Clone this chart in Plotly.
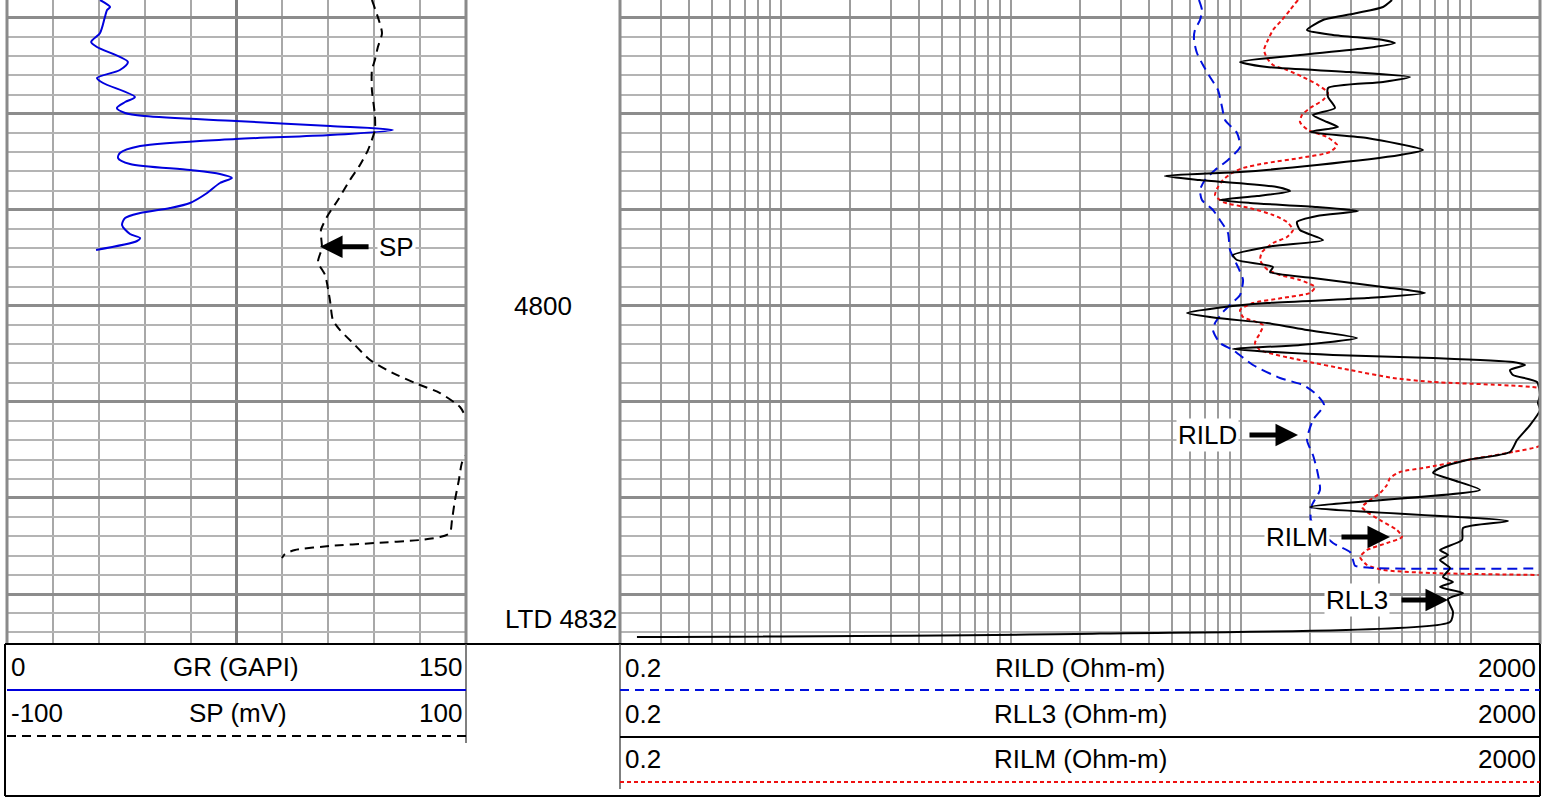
import numpy as np
import plotly.graph_objects as go

W, H = 1553, 798

# ---------------- data (depth in ft) ----------------
TOP_DEPTH = 4768.16
BOT_DEPTH = 4835.10

gr_depth = [4768.16, 4768.89, 4769.20, 4769.93, 4771.60, 4772.53, 4773.05, 4774.61, 4775.45, 4776.28,
            4776.80, 4778.26, 4778.78, 4779.40, 4779.92, 4780.24, 4780.76, 4781.28, 4781.69, 4782.22,
            4782.63, 4783.36, 4784.09, 4784.61, 4785.23, 4785.86, 4786.28, 4786.69, 4787.21, 4788.25,
            4789.29, 4789.82, 4790.34, 4790.86, 4791.59, 4792.52, 4792.94, 4793.25, 4794.19]
gr = [30.4, 33.7, 32.7, 32.0, 30.4, 27.5, 29.4, 39.5, 36.9, 29.4,
      31.4, 41.8, 38.6, 35.9, 38.6, 45.1, 74.8, 105.6, 126.1, 105.6,
      74.8, 43.5, 36.9, 36.3, 40.2, 59.8, 69.6, 73.5, 69.6, 65.4,
      59.8, 53.3, 43.5, 38.6, 37.6, 40.2, 43.5, 42.5, 29.1]

sp_depth = [4768.16, 4771.60, 4773.05, 4774.41, 4775.45, 4777.53, 4780.13, 4781.69, 4783.78, 4785.34,
            4786.90, 4788.98, 4790.54, 4792.11, 4793.98, 4795.44, 4796.79, 4799.39, 4801.48, 4802.52,
            4804.08, 4805.64, 4807.00, 4808.03, 4809.08, 4810.53, 4811.47, 4812.93, 4815.01, 4816.36,
            4818.13, 4820.22, 4822.30, 4823.65, 4824.07, 4824.38, 4824.69, 4825.00, 4825.42, 4825.84,
            4826.25]
sp = [59.0, 63.4, 61.6, 60.3, 59.0, 59.0, 60.3, 60.3, 57.3, 53.8,
      49.4, 44.2, 39.9, 36.8, 37.2, 35.5, 38.6, 40.7, 42.0, 45.1,
      51.6, 58.2, 68.2, 77.8, 88.7, 97.4, 99.6, 101.0, 101.0, 98.2,
      96.9, 95.2, 93.9, 93.0, 88.7, 79.9, 60.3, 40.7, 25.5, 21.1,
      19.8]

rild_depth = [4768.16, 4769.20, 4770.24, 4771.28, 4772.32, 4773.68, 4774.93, 4776.18, 4777.53, 4779.30,
              4780.65, 4782.01, 4783.46, 4784.82, 4785.86, 4786.90, 4787.94, 4788.98, 4790.02, 4791.06,
              4792.42, 4794.19, 4795.75, 4797.31, 4798.87, 4799.71, 4800.75, 4801.79, 4802.52, 4803.87,
              4804.60, 4806.16, 4807.51, 4808.24, 4809.28, 4810.33, 4811.89, 4813.97, 4815.53, 4817.09,
              4819.17, 4820.74, 4822.30, 4824.69, 4825.63, 4826.46, 4827.05, 4827.30, 4827.35]
rild = [65.8, 67.8, 66.5, 63.2, 62.6, 64.5, 68.5, 73.5, 79.6, 82.9,
        85.4, 96.3, 99.3, 88.0, 77.3, 69.9, 66.5, 67.8, 75.7, 81.2,
        88.0, 89.8, 96.3, 102.3, 99.3, 91.6, 82.9, 77.3, 75.7, 81.2,
        92.5, 113.0, 148.1, 186.5, 214.6, 230.2, 206.0, 194.1, 206.0, 214.6,
        221.0, 204.0, 202.0, 251.8, 298.5, 307.6, 313.8, 383.0, 2000.0]

rilm_depth = [4768.16, 4769.20, 4770.24, 4771.28, 4772.32, 4773.37, 4774.20, 4774.93, 4775.45, 4776.18,
              4777.01, 4777.84, 4778.57, 4779.40, 4780.13, 4780.86, 4781.69, 4782.42, 4783.26, 4783.98,
              4784.61, 4785.13, 4785.65, 4786.17, 4786.90, 4787.63, 4788.46, 4789.19, 4789.82, 4790.54,
              4791.27, 4792.11, 4792.83, 4793.46, 4794.40, 4795.23, 4795.75, 4796.27, 4796.79, 4797.31,
              4798.04, 4798.66, 4799.19, 4799.71, 4800.43, 4801.16, 4802.00, 4802.83, 4803.87, 4804.60,
              4805.64, 4806.68, 4807.51, 4807.93, 4808.24, 4808.56, 4809.80, 4812.93, 4814.59, 4815.22,
              4816.05, 4816.88, 4817.30, 4817.93, 4818.65, 4819.49, 4820.22, 4820.95, 4821.47, 4822.30,
              4823.34, 4824.07, 4824.69, 4825.42, 4826.15, 4826.98, 4827.50, 4827.82, 4828.02]
rilm = [177.4, 163.7, 151.1, 138.1, 131.3, 126.2, 130.0, 138.1, 158.9, 186.5,
        216.7, 239.6, 227.8, 200.0, 184.6, 180.9, 196.0, 237.1, 262.2, 244.4,
        180.9, 130.0, 102.3, 91.6, 83.7, 79.6, 77.3, 83.7, 109.7, 138.1,
        158.9, 168.7, 158.9, 138.1, 123.7, 121.3, 124.9, 131.3, 148.1, 180.9,
        210.2, 200.0, 151.1, 113.0, 99.3, 102.3, 124.9, 121.3, 115.3, 121.3,
        180.9, 298.5, 459.2, 685.3, 1340.0, 2000.0, 2600.0, 2600.0, 2000.0, 1526.0,
        963.3, 619.9, 492.4, 445.5, 432.2, 403.0, 364.7, 336.6, 353.9, 403.0,
        477.9, 502.4, 432.2, 353.9, 330.0, 353.9, 415.5, 685.3, 2000.0]

rll3_depth = [4768.16, 4768.89, 4769.51, 4770.24, 4771.28, 4771.80, 4772.32, 4772.64, 4773.16, 4773.89,
              4774.61, 4775.14, 4775.66, 4776.18, 4776.70, 4777.32, 4778.26, 4779.40, 4780.13, 4780.86,
              4781.38, 4781.90, 4782.53, 4783.78, 4784.30, 4785.34, 4786.07, 4786.48, 4786.90, 4787.63,
              4788.05, 4788.57, 4788.98, 4789.29, 4789.71, 4790.13, 4790.65, 4791.27, 4792.11, 4793.15,
              4793.77, 4794.71, 4795.23, 4795.96, 4796.48, 4797.10, 4798.04, 4798.66, 4799.19, 4799.71,
              4800.23, 4800.75, 4801.27, 4801.79, 4802.52, 4803.35, 4804.08, 4804.49, 4805.12, 4805.43,
              4805.85, 4806.16, 4806.68, 4807.20, 4807.93, 4809.28, 4810.12, 4810.85, 4812.41, 4813.97,
              4815.22, 4816.05, 4816.88, 4817.40, 4818.13, 4819.17, 4820.95, 4822.40, 4823.13, 4824.38,
              4825.42, 4825.94, 4826.46, 4827.30, 4828.23, 4828.75, 4829.27, 4829.90, 4830.52, 4831.88,
              4832.92, 4834.12, 4834.48]
rll3 = [454.6, 415.5, 320.2, 227.8, 194.1, 251.8, 415.5, 468.4, 353.9, 180.9,
        99.3, 130.0, 298.5, 544.3, 415.5, 239.6, 239.6, 256.8, 206.0, 237.1,
        264.6, 200.0, 353.9, 619.9, 492.4, 214.6, 99.3, 46.8, 66.5, 143.7,
        163.7, 117.7, 81.2, 109.7, 214.6, 323.5, 214.6, 175.6, 180.9, 227.8,
        138.1, 92.5, 96.3, 138.1, 134.0, 206.0, 415.5, 632.5, 353.9, 130.0,
        78.8, 58.4, 78.8, 130.0, 194.1, 320.2, 180.9, 92.5, 251.8, 685.3,
        1526.0, 1721.0, 1481.0, 1526.0, 1941.0, 2000.0, 1960.0, 2000.0, 1810.0, 1589.0,
        1481.0, 963.3, 735.0, 685.3, 836.9, 1097.0, 200.0, 1452.0, 925.5, 916.0,
        735.0, 796.2, 735.0, 812.4, 757.4, 836.9, 735.0, 925.5, 796.2, 836.9,
        812.4, 24.4, 0.237]

# log grid values 0.2 ... 2000
log_grid = [m * 10.0 ** e for e in range(-1, 4) for m in range(1, 10)]
log_grid = [v for v in log_grid if 0.2 - 1e-9 <= v <= 2000 + 1e-6]

FONT = "Liberation Sans, Arial, sans-serif"
FS = 26


def px(x):
    return x / W


def py(y):
    return 1 - y / H


fig = go.Figure()

fig.add_trace(go.Scatter(x=gr, y=gr_depth, xaxis="x", yaxis="y", mode="lines",
                         line=dict(color="#0000dd", width=2, shape="spline", smoothing=0.8),
                         hoverinfo="skip"))
fig.add_trace(go.Scatter(x=sp, y=sp_depth, xaxis="x2", yaxis="y", mode="lines",
                         line=dict(color="black", width=2, dash="9px,6px", shape="spline", smoothing=0.6),
                         hoverinfo="skip"))
fig.add_trace(go.Scatter(x=rilm, y=rilm_depth, xaxis="x3", yaxis="y2", mode="lines",
                         line=dict(color="#ee1111", width=2, dash="4px,3px", shape="spline", smoothing=0.6),
                         hoverinfo="skip"))
fig.add_trace(go.Scatter(x=rild, y=rild_depth, xaxis="x3", yaxis="y2", mode="lines",
                         line=dict(color="#0010dd", width=2, dash="10px,6px", shape="spline", smoothing=0.6),
                         hoverinfo="skip"))
fig.add_trace(go.Scatter(x=rll3, y=rll3_depth, xaxis="x3", yaxis="y2", mode="lines",
                         line=dict(color="black", width=2, shape="spline", smoothing=0.6),
                         hoverinfo="skip"))

ydom = [py(643), 1.0]
yaxis_common = dict(
    domain=ydom, range=[BOT_DEPTH, TOP_DEPTH], showticklabels=False, ticks="",
    showgrid=True, dtick=10, tick0=4770, gridcolor="#8c8c8c", gridwidth=3, zeroline=False,
    minor=dict(dtick=2, tick0=4770, showgrid=True, gridcolor="#b4b4b4", gridwidth=2, ticks=""),
)

fig.update_layout(
    width=W, height=H, margin=dict(l=0, r=0, t=0, b=0),
    paper_bgcolor="white", plot_bgcolor="white", showlegend=False,
    xaxis=dict(domain=[px(7), px(466)], range=[0, 150], anchor="y", showticklabels=False, ticks="",
               showgrid=True, dtick=75, tick0=0, gridcolor="#808080", gridwidth=2.5, zeroline=False,
               minor=dict(dtick=15, tick0=0, showgrid=True, gridcolor="#a8a8a8", gridwidth=2, ticks="")),
    xaxis2=dict(domain=[px(7), px(466)], range=[-100, 100], overlaying="x", anchor="y",
                showticklabels=False, showgrid=False, zeroline=False, ticks=""),
    xaxis3=dict(domain=[px(620), px(1540)], type="log", range=[np.log10(0.2), np.log10(2000)],
                anchor="y2", showticklabels=False, ticks="", tickmode="array", tickvals=log_grid,
                showgrid=True, gridcolor="#9c9c9c", gridwidth=2, zeroline=False),
    yaxis=dict(anchor="x", **yaxis_common),
    yaxis2=dict(anchor="x3", **yaxis_common),
)

shapes = []
# track borders
for xb in (7, 466, 620, 1540):
    shapes.append(dict(type="line", xref="paper", yref="paper", x0=px(xb), x1=px(xb),
                       y0=py(644), y1=1, line=dict(color="#8a8a8a", width=3)))
# header frame
blk = dict(color="black", width=2)
shapes += [
    dict(type="line", xref="paper", yref="paper", x0=px(5), x1=px(1540), y0=py(644), y1=py(644), line=blk),
    dict(type="line", xref="paper", yref="paper", x0=px(5), x1=px(1540), y0=py(796), y1=py(796), line=blk),
    dict(type="line", xref="paper", yref="paper", x0=px(5), x1=px(5), y0=py(644), y1=py(796), line=blk),
    dict(type="line", xref="paper", yref="paper", x0=px(1540), x1=px(1540), y0=py(644), y1=py(796), line=blk),
    dict(type="line", xref="paper", yref="paper", x0=px(466), x1=px(466), y0=py(644), y1=py(743),
         line=dict(color="#555555", width=1.5)),
    dict(type="line", xref="paper", yref="paper", x0=px(620), x1=px(620), y0=py(644), y1=py(789),
         line=dict(color="#555555", width=1.5)),
    dict(type="line", xref="paper", yref="paper", x0=px(620), x1=px(1540), y0=py(737), y1=py(737), line=blk),
    # legend lines
    dict(type="line", xref="paper", yref="paper", x0=px(7), x1=px(466), y0=py(690), y1=py(690),
         line=dict(color="#0000dd", width=2)),
    dict(type="line", xref="paper", yref="paper", x0=px(7), x1=px(466), y0=py(736), y1=py(736),
         line=dict(color="black", width=2, dash="9px,6px")),
    dict(type="line", xref="paper", yref="paper", x0=px(620), x1=px(1540), y0=py(690), y1=py(690),
         line=dict(color="#0010dd", width=2, dash="9px,6px")),
    dict(type="line", xref="paper", yref="paper", x0=px(620), x1=px(1540), y0=py(782), y1=py(782),
         line=dict(color="#ee1111", width=2, dash="4px,3px")),
]
fig.update_layout(shapes=shapes)

ann = []


def txt(text, x, y, xanchor="center"):
    ann.append(dict(text=text, x=px(x), y=py(y), xref="paper", yref="paper", showarrow=False,
                    xanchor=xanchor, yanchor="middle", font=dict(family=FONT, size=FS, color="black")))


# header texts
txt("0", 9, 667, "left"); txt("GR (GAPI)", 236, 667); txt("150", 464, 667, "right")
txt("-100", 9, 713, "left"); txt("SP (mV)", 238, 713); txt("100", 464, 713, "right")
txt("0.2", 623, 668, "left"); txt("RILD (Ohm-m)", 1080, 668); txt("2000", 1538, 668, "right")
txt("0.2", 623, 714, "left"); txt("RLL3 (Ohm-m)", 1080, 714); txt("2000", 1538, 714, "right")
txt("0.2", 623, 759, "left"); txt("RILM (Ohm-m)", 1080, 759); txt("2000", 1538, 759, "right")

# depth labels
ann.append(dict(text="4800", x=px(543), y=4800, xref="paper", yref="y", showarrow=False,
                xanchor="center", yanchor="middle", font=dict(family=FONT, size=FS, color="black")))
ann.append(dict(text="LTD 4832", x=px(619), y=4832.6, xref="paper", yref="y", showarrow=False,
                xanchor="right", yanchor="middle", font=dict(family=FONT, size=FS, color="black")))


def arrow(xref, yref, x_head, x_tail, depth):
    ann.append(dict(text="", x=x_head, y=depth, ax=x_tail, ay=depth, xref=xref, yref=yref,
                    axref=xref, ayref=yref, showarrow=True, arrowhead=2, arrowsize=0.9,
                    arrowwidth=5, arrowcolor="black", standoff=0, startstandoff=0))


def label(text, xref, yref, x, depth, xanchor):
    ann.append(dict(text=text, x=x, y=depth, xref=xref, yref=yref, showarrow=False,
                    xanchor=xanchor, yanchor="middle", bgcolor="white", borderpad=1,
                    font=dict(family=FONT, size=FS, color="black")))


L = np.log10
# SP label (left track, SP scale)
arrow("x2", "y", 36.4, 58.2, 4793.85)
label("SP", "x2", "y", 61.0, 4793.85, "left")
# RILD
arrow("x3", "y2", L(177.4), L(107.5), 4813.45)
label("RILD", "x3", "y2", L(98.0), 4813.45, "right")
# RILM
arrow("x3", "y2", L(445.5), L(270.0), 4824.07)
label("RILM", "x3", "y2", L(244.4), 4824.07, "right")
# RLL3
arrow("x3", "y2", L(796.2), L(492.4), 4830.63)
label("RLL3", "x3", "y2", L(445.5), 4830.63, "right")

fig.update_layout(annotations=ann)

fig.write_html("out.html", config={"displayModeBar": False},
               post_script="document.body.style.margin='0';document.body.style.padding='0';")
